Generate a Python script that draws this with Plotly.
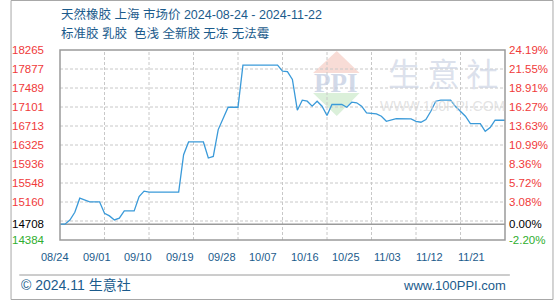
import plotly.graph_objects as go
import pandas as pd

# ---- data ----
dates = ["2024-08-24","2024-08-25","2024-08-26","2024-08-27","2024-08-28","2024-08-29","2024-08-30",
         "2024-09-01","2024-09-02","2024-09-03","2024-09-04","2024-09-05","2024-09-06","2024-09-08",
         "2024-09-09","2024-09-10","2024-09-11","2024-09-17","2024-09-18","2024-09-19","2024-09-22",
         "2024-09-23","2024-09-24","2024-09-25","2024-09-26","2024-09-27","2024-09-29","2024-09-30",
         "2024-10-07","2024-10-08","2024-10-09","2024-10-10","2024-10-11","2024-10-12","2024-10-13",
         "2024-10-14","2024-10-15","2024-10-16","2024-10-17","2024-10-18","2024-10-20","2024-10-21",
         "2024-10-22","2024-10-23","2024-10-24","2024-10-25","2024-10-27","2024-10-28","2024-10-29",
         "2024-10-30","2024-10-31","2024-11-03","2024-11-04","2024-11-05","2024-11-06","2024-11-07",
         "2024-11-08","2024-11-09","2024-11-11","2024-11-12","2024-11-13","2024-11-14","2024-11-15",
         "2024-11-17","2024-11-18","2024-11-19","2024-11-20","2024-11-22"]
prices = [14708,14708,14790,14950,15238,15200,15163,
          15163,14931,14876,14794,14830,14979,14979,
          15272,15382,15362,15362,16127,16387,16387,
          16059,16092,16639,16879,17096,17096,17957,
          17957,17834,17822,17664,17035,17240,17219,
          17117,17219,17117,16926,17152,17152,17096,
          17199,17186,17117,16981,16961,16912,16809,
          16844,16864,16858,16809,16789,16844,17014,
          17219,17240,17240,17110,17014,16912,16762,
          16762,16603,16680,16830,16830]

base_price = 14708
y_min, y_max = 14384, 18265
left_ticks = [18265, 17877, 17489, 17101, 16713, 16325, 15936, 15548, 15160, 14708, 14384]
right_labels = ["24.19%", "21.55%", "18.91%", "16.27%", "13.63%", "10.99%", "8.36%",
                "5.72%", "3.08%", "0.00%", "-2.20%"]
x_labels = ["08/24", "09/01", "09/10", "09/19", "09/28", "10/07", "10/16",
            "10/25", "11/03", "11/12", "11/21"]

title1 = "天然橡胶 上海 市场价 2024-08-24 - 2024-11-22"
title2 = "标准胶 乳胶\u00a0\u00a0色浅 全新胶 无冻 无法霉"
footer_left = "© 2024.11 生意社"
footer_right = "www.100PPI.com"

# ---- styling ----
W, H = 560, 300
ML, MR, MT, MB = 51, 50, 50, 60
PW, PH = W - ML - MR, H - MT - MB
RED, GREEN, BLACK = "#f03a3a", "#2fae2f", "#000000"
BLUE_TXT = "#1b5b8c"
GRID = "#c8c8c8"
FRAME = "#9a9a9a"

def px2x(px):
    return (px - ML) / PW

def py2y(py):
    return (H - MB - py) / PH

def lab_color(v):
    if v == base_price:
        return BLACK
    if v == y_min:
        return GREEN
    return RED

left_text = [f"<span style='color:{lab_color(v)}'>{v}</span>" for v in left_ticks]
right_text = [f"<span style='color:{lab_color(v)}'>{t}</span>" for v, t in zip(left_ticks, right_labels)]

fig = go.Figure()
fig.add_trace(go.Scatter(x=pd.to_datetime(dates), y=prices, mode="lines",
                         line=dict(color="#3a9ad9", width=1.3), hoverinfo="skip",
                         showlegend=False))
fig.add_trace(go.Scatter(x=pd.to_datetime(dates), y=prices, mode="lines", yaxis="y2",
                         line=dict(color="rgba(0,0,0,0)", width=0), hoverinfo="skip",
                         showlegend=False))

shapes = []
# watermark logo
shapes.append(dict(type="path", xref="paper", yref="paper", layer="below",
                   path=f"M {px2x(312)} {py2y(73)} L {px2x(336.5)} {py2y(51)} L {px2x(360)} {py2y(73)} Z",
                   fillcolor="#f8dcd6", line=dict(width=0)))
shapes.append(dict(type="path", xref="paper", yref="paper", layer="below",
                   path=f"M {px2x(312)} {py2y(93)} L {px2x(336.5)} {py2y(116)} L {px2x(360)} {py2y(93)} Z",
                   fillcolor="#dbf0da", line=dict(width=0)))
# horizontal dashed grid
step = (y_max - y_min) / 10
for k in range(1, 10):
    yv = y_min + k * step
    shapes.append(dict(type="line", xref="paper", yref="y", x0=0, x1=1, y0=yv, y1=yv,
                       line=dict(color=GRID, width=1, dash="3px,2px"), layer="below"))
# vertical dashed grid
for j in range(1, 10):
    shapes.append(dict(type="line", xref="paper", yref="paper", x0=j / 10, x1=j / 10, y0=0, y1=1,
                       line=dict(color=GRID, width=1, dash="3px,2px"), layer="below"))
# base line
shapes.append(dict(type="line", xref="paper", yref="y", x0=0, x1=1, y0=base_price, y1=base_price,
                   line=dict(color=FRAME, width=1.5), layer="below"))
# plot frame
shapes.append(dict(type="rect", xref="paper", yref="paper", x0=0, x1=1, y0=0, y1=1,
                   line=dict(color=FRAME, width=1.5)))
# footer separator
shapes.append(dict(type="line", xref="paper", yref="paper", x0=px2x(9), x1=px2x(515),
                   y0=py2y(275), y1=py2y(275), line=dict(color=FRAME, width=1)))
# outer border
shapes.append(dict(type="rect", xref="paper", yref="paper", x0=px2x(0.5), x1=px2x(559.5),
                   y0=py2y(299.5), y1=py2y(0.5), line=dict(color="#a8a8a8", width=1)))

ann = []
ann.append(dict(text=title1, x=px2x(50), y=py2y(14.5), xref="paper", yref="paper",
                xanchor="left", yanchor="middle", showarrow=False,
                font=dict(family="Liberation Sans, Noto Sans CJK SC", size=12.5, color=BLUE_TXT)))
ann.append(dict(text=title2, x=px2x(50), y=py2y(33.5), xref="paper", yref="paper",
                xanchor="left", yanchor="middle", showarrow=False,
                font=dict(family="Liberation Sans, Noto Sans CJK SC", size=12.5, color=BLUE_TXT)))
for i, t in enumerate(x_labels):
    ann.append(dict(text=t, x=px2x(46 + 42.9 * i), y=py2y(256.5), xref="paper", yref="paper",
                    xanchor="center", yanchor="middle", showarrow=False,
                    font=dict(family="Liberation Sans", size=11, color=BLUE_TXT)))
ann.append(dict(text=footer_left, x=px2x(9), y=py2y(285), xref="paper", yref="paper",
                xanchor="left", yanchor="middle", showarrow=False,
                font=dict(family="Liberation Sans, Noto Sans CJK SC", size=14, color=BLUE_TXT)))
ann.append(dict(text=footer_right, x=px2x(513), y=py2y(285), xref="paper", yref="paper",
                xanchor="right", yanchor="middle", showarrow=False,
                font=dict(family="Liberation Sans", size=13, color=BLUE_TXT)))
# watermark texts
ann.append(dict(text="<b>PPI</b>", x=px2x(336), y=py2y(83), xref="paper", yref="paper",
                xanchor="center", yanchor="middle", showarrow=False,
                font=dict(family="Liberation Serif", size=27, color="rgba(195,205,225,0.75)")))
ann.append(dict(text="生\u00a0意\u00a0社", x=px2x(446), y=py2y(72), xref="paper", yref="paper",
                xanchor="center", yanchor="middle", showarrow=False,
                font=dict(family="Noto Sans CJK SC", size=32, color="rgba(205,212,228,0.7)")))
ann.append(dict(text="WWW.100PPI.COM", x=px2x(446), y=py2y(106), xref="paper", yref="paper",
                xanchor="center", yanchor="middle", showarrow=False,
                font=dict(family="Liberation Sans", size=14, color="rgba(215,215,215,0.7)")))

fig.update_layout(
    width=W, height=H, margin=dict(l=ML, r=MR, t=MT, b=MB),
    paper_bgcolor="white", plot_bgcolor="white",
    xaxis=dict(type="date", range=[dates[0], dates[-1]], showgrid=False, showticklabels=False,
               zeroline=False, showline=False, ticks=""),
    yaxis=dict(range=[y_min, y_max], tickvals=left_ticks, ticktext=left_text, showgrid=False,
               zeroline=False, showline=False, ticks="", ticklabelstandoff=15,
               tickfont=dict(family="Liberation Sans", size=11.5)),
    yaxis2=dict(range=[y_min, y_max], overlaying="y", side="right", tickvals=left_ticks,
                ticktext=right_text, showgrid=False, zeroline=False, showline=False, ticks="",
                ticklabelstandoff=3, tickfont=dict(family="Liberation Sans", size=11.5)),
    shapes=shapes, annotations=ann, showlegend=False,
)

fig.write_html("out.html")
